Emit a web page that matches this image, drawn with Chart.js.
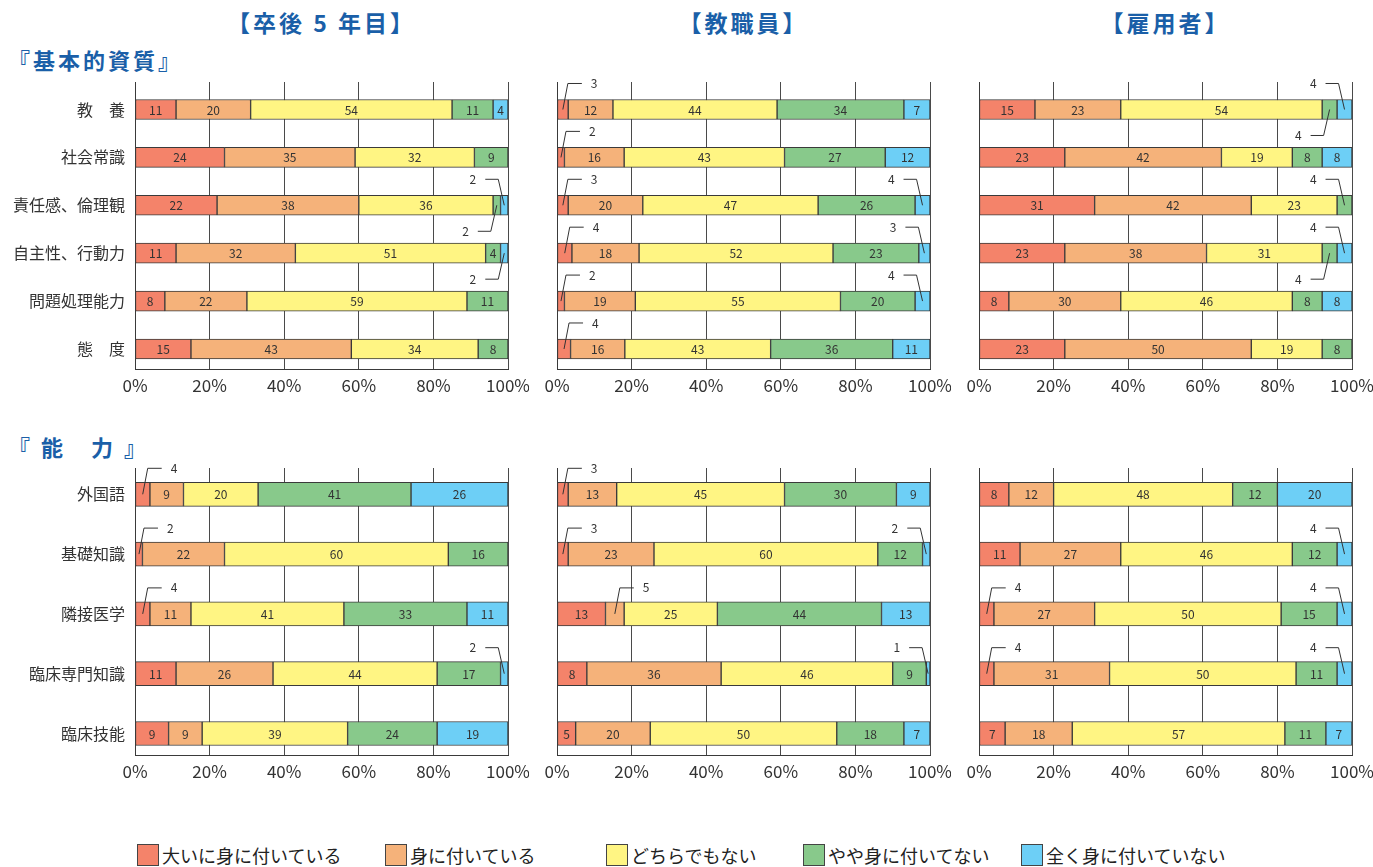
<!DOCTYPE html>
<html><head><meta charset="utf-8">
<script src="https://cdn.jsdelivr.net/npm/chart.js@4/dist/chart.umd.min.js"></script>
<style>
html,body{margin:0;padding:0;background:#fff;}
body{width:1373px;height:867px;position:relative;overflow:hidden;font-family:"Noto Sans CJK JP","Noto Sans",sans-serif;}
.t{position:absolute;color:#1a5fa8;font-weight:bold;white-space:nowrap;font-family:"Noto Sans CJK JP",sans-serif;}
canvas{position:absolute;}
.lg{position:absolute;top:843px;height:24px;display:flex;align-items:center;font-size:18px;color:#222;white-space:nowrap;}
.lg i{display:inline-block;width:20px;height:20px;border:1px solid #444;margin-right:3px;}
</style></head><body>
<script>
// ---- data ----
const groupTitles = ['【卒後 5 年目】', '【教職員】', '【雇用者】'];
const sectionTitles = ['『基本的資質』', '『 能　力 』'];
const seriesNames = ['大いに身に付いている', '身に付いている', 'どちらでもない', 'やや身に付いてない', '全く身に付いていない'];
const seriesColors = ['#f4836a', '#f5b27a', '#fff583', '#88c98b', '#6dcff6'];
const basicItems = ['教　養', '社会常識', '責任感、倫理観', '自主性、行動力', '問題処理能力', '態　度'];
const abilityItems = ['外国語', '基礎知識', '隣接医学', '臨床専門知識', '臨床技能'];
const xTickValues = [0, 20, 40, 60, 80, 100];

// rows: [大いに, 身に付いている, どちらでもない, やや, 全く]
const basicGrad  = [[11,20,54,11,4],[24,35,32,9,0],[22,38,36,2,2],[11,32,51,4,2],[8,22,59,11,0],[15,43,34,8,0]];
const basicStaff = [[3,12,44,34,7],[2,16,43,27,12],[3,20,47,26,4],[4,18,52,23,3],[2,19,55,20,4],[4,16,43,36,11]];
const basicEmp   = [[15,23,54,4,4],[23,42,19,8,8],[31,42,23,4,0],[23,38,31,4,4],[8,30,46,8,8],[23,50,19,8,0]];
const abilGrad   = [[4,9,20,41,26],[2,22,60,16,0],[4,11,41,33,11],[11,26,44,17,2],[9,9,39,24,19]];
const abilStaff  = [[3,13,45,30,9],[3,23,60,12,2],[13,5,25,44,13],[8,36,46,9,1],[5,20,50,18,7]];
const abilEmp    = [[8,12,48,12,20],[11,27,46,12,4],[4,27,50,15,4],[4,31,50,11,4],[7,18,57,11,7]];

// small segments labelled outside: [row, series, direction]
const calloutsBasicGrad  = [[2,4,'ul'],[2,3,'dl'],[3,4,'dl']];
const calloutsBasicStaff = [[0,0,'ur'],[1,0,'ur'],[2,0,'ur'],[2,4,'ul'],[3,0,'ur'],[3,4,'ul'],[4,0,'ur'],[4,4,'ul'],[5,0,'ur']];
const calloutsBasicEmp   = [[0,4,'ul'],[0,3,'dl'],[2,3,'ul'],[3,4,'ul'],[3,3,'dl']];
const calloutsAbilGrad   = [[0,0,'ur'],[1,0,'ur'],[2,0,'ur'],[3,4,'ul']];
const calloutsAbilStaff  = [[0,0,'ur'],[1,0,'ur'],[1,4,'ul'],[2,1,'ur'],[3,4,'ul']];
const calloutsAbilEmp    = [[1,4,'ul'],[2,0,'ur'],[2,4,'ul'],[3,0,'ur'],[3,4,'ul']];

// ---- rendering ----
const FAM = '"Noto Sans CJK JP", "Noto Sans", sans-serif';
Chart.defaults.font.family = FAM;

function addText(cls, text, css) {
  const d = document.createElement('div');
  d.className = cls; d.textContent = text;
  Object.assign(d.style, css);
  document.body.appendChild(d);
}

function segLabels(callouts) {
  return {
    id: 'segLabels',
    afterDatasetsDraw(chart) {
      const ctx = chart.ctx;
      ctx.save();
      ctx.font = '12px ' + FAM;
      ctx.fillStyle = '#333';
      ctx.strokeStyle = '#333';
      ctx.lineWidth = 1;
      chart.data.datasets.forEach((ds, s) => {
        const meta = chart.getDatasetMeta(s);
        meta.data.forEach((bar, i) => {
          const v = ds.data[i].raw;
          if (!v) return;
          const p = bar.getProps(['x', 'base', 'y'], true);
          const cx = (p.x + p.base) / 2;
          const c = callouts.find(c => c[0] === i && c[1] === s);
          ctx.textBaseline = 'middle';
          if (!c) {
            ctx.textAlign = 'center';
            ctx.fillText(String(v), cx, p.y + 0.5);
            return;
          }
          const up = c[2][0] === 'u', right = c[2][1] === 'r';
          const kx = cx + (right ? 5 : -6);
          const ky = p.y + (up ? -26 : 26);
          const ex = kx + (right ? 14 : -13);
          ctx.beginPath();
          ctx.moveTo(cx, p.y);
          ctx.lineTo(kx, ky);
          ctx.lineTo(ex, ky);
          ctx.stroke();
          ctx.textAlign = right ? 'left' : 'right';
          ctx.fillText(String(v), ex + (right ? 9 : -9), ky);
        });
      });
      ctx.restore();
    }
  };
}

function makeChart(rows, cats, callouts, cfg) {
  const cv = document.createElement('canvas');
  cv.width = cfg.w; cv.height = cfg.h;
  cv.style.left = cfg.left + 'px'; cv.style.top = cfg.top + 'px';
  cv.style.width = cfg.w + 'px'; cv.style.height = cfg.h + 'px';
  document.body.appendChild(cv);
  const datasets = seriesNames.map((name, s) => ({
    label: name,
    data: rows.map((r, i) => {
      const total = r.reduce((a, b) => a + b, 0);
      return { y: i, x: r[s] / total * 100, raw: r[s] };
    }),
    backgroundColor: seriesColors[s],
    borderColor: '#3a3a3a',
    borderWidth: 1,
    borderSkipped: false,
    barThickness: cfg.bar
  }));
  new Chart(cv, {
    type: 'bar',
    data: { datasets },
    options: {
      indexAxis: 'y',
      responsive: false,
      animation: false,
      devicePixelRatio: 1,
      layout: { padding: { top: cfg.padTop, left: cfg.padLeft, right: 21, bottom: 0 } },
      plugins: { legend: { display: false }, tooltip: { enabled: false } },
      scales: {
        x: {
          type: 'linear', stacked: true, min: 0, max: 100, offset: false,
          afterBuildTicks: s => { s.ticks = xTickValues.map(v => ({ value: v })); },
          ticks: { callback: v => v + '%', font: { size: 17 }, color: '#333', padding: 6, maxRotation: 0 },
          grid: { color: '#4a4a4a', lineWidth: 1, drawTicks: false, offset: false },
          border: { display: true, color: '#3a3a3a', width: 1 },
          afterFit: s => { s.height = 31; s.paddingLeft = 0; s.paddingRight = 0; }
        },
        y: {
          type: 'linear', stacked: true, reverse: true, bounds: 'data', offset: false,
          min: cfg.ymin, max: cfg.ymax,
          afterBuildTicks: s => { s.ticks = cats.map((c, i) => ({ value: i })); },
          ticks: { display: cfg.labels, autoSkip: false, callback: v => cats[v] ?? '', font: { size: 16 }, color: '#333', padding: 10 },
          grid: { display: false, drawTicks: false, offset: false },
          border: { display: true, color: '#3a3a3a', width: 1 },
          afterFit: s => { s.width = cfg.yw; s.paddingTop = 0; s.paddingBottom = 0; }
        }
      }
    },
    plugins: [segLabels(callouts)]
  });
}

// titles
const centers = [321.5, 743.5, 1165.5];
groupTitles.forEach((t, k) => addText('t', t, { left: (centers[k] - 150) + 'px', width: '300px', textAlign: 'center', top: '9px', fontSize: '23px', lineHeight: '26px', letterSpacing: '3px' }));
addText('t', sectionTitles[0], { left: '8px', top: '46px', fontSize: '22px', lineHeight: '26px', letterSpacing: '3px' });
addText('t', sectionTitles[1], { left: '8px', top: '433px', fontSize: '22px', lineHeight: '26px', letterSpacing: '3px' });

const topCfg = { top: 60, h: 340, padTop: 22, bar: 20, ymin: -0.574, ymax: 5.418 };
const botCfg = { top: 450, h: 336, padTop: 18, bar: 24, ymin: -0.44, ymax: 4.36 };
const colCfg = [
  { left: 0, w: 529, padLeft: 0, yw: 135, labels: true },
  { left: 537, w: 414, padLeft: 20, yw: 0, labels: false },
  { left: 959, w: 414, padLeft: 20, yw: 0, labels: false }
];
makeChart(basicGrad, basicItems, calloutsBasicGrad, Object.assign({}, topCfg, colCfg[0]));
makeChart(basicStaff, basicItems, calloutsBasicStaff, Object.assign({}, topCfg, colCfg[1]));
makeChart(basicEmp, basicItems, calloutsBasicEmp, Object.assign({}, topCfg, colCfg[2]));
makeChart(abilGrad, abilityItems, calloutsAbilGrad, Object.assign({}, botCfg, colCfg[0]));
makeChart(abilStaff, abilityItems, calloutsAbilStaff, Object.assign({}, botCfg, colCfg[1]));
makeChart(abilEmp, abilityItems, calloutsAbilEmp, Object.assign({}, botCfg, colCfg[2]));

// legend
const legendLefts = [137, 385, 606, 803, 1021];
seriesNames.forEach((n, s) => {
  const d = document.createElement('div');
  d.className = 'lg';
  d.style.left = legendLefts[s] + 'px';
  const sq = document.createElement('i');
  sq.style.background = seriesColors[s];
  d.appendChild(sq);
  d.appendChild(document.createTextNode(n));
  document.body.appendChild(d);
});
</script>
</body></html>
